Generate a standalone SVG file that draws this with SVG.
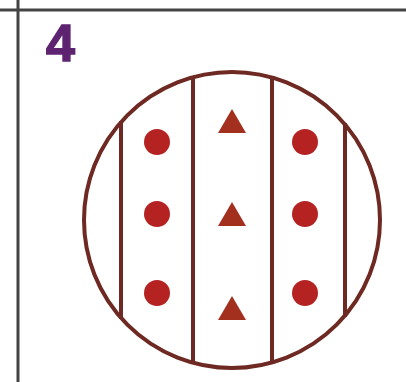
<svg xmlns="http://www.w3.org/2000/svg" width="406" height="382" viewBox="0 0 406 382">
<style>
.frame{stroke:#444;stroke-width:3;fill:none}
.ring{fill:none;stroke:#6e2a22;stroke-width:4}
.wall{stroke:#6e2a22;stroke-width:4}
.dot{fill:#b42222}
.tri{fill:#a3301f}
.num{font-family:"Liberation Sans",Arial,sans-serif;font-weight:bold;font-size:52px;fill:#5e2370;stroke:#5e2370;stroke-width:1.5}
</style>
<rect width="406" height="382" fill="#fff"/>
<g id="frame">
<line class="frame" x1="0" y1="10" x2="406" y2="10"/>
<line class="frame" x1="18" y1="0" x2="18" y2="382"/>
</g>
<text id="label" class="num" x="46" y="61">4</text>
<g id="cell">
<circle class="ring" cx="232" cy="220" r="148"/>
<line class="wall" x1="121" y1="121" x2="121" y2="319"/>
<line class="wall" x1="193" y1="76" x2="193" y2="364"/>
<line class="wall" x1="272" y1="76" x2="272" y2="364"/>
<line class="wall" x1="345" y1="123" x2="345" y2="317"/>
</g>
<g id="dots">
<circle class="dot" cx="157" cy="142" r="13"/>
<circle class="dot" cx="157" cy="214" r="13"/>
<circle class="dot" cx="157" cy="293" r="13"/>
<circle class="dot" cx="305" cy="142" r="13"/>
<circle class="dot" cx="305" cy="214" r="13"/>
<circle class="dot" cx="305" cy="293" r="13"/>
</g>
<g id="triangles">
<polygon class="tri" points="232,109 218,133 246,133"/>
<polygon class="tri" points="232,202 218,226 246,226"/>
<polygon class="tri" points="232,296 218,320 246,320"/>
</g>
</svg>
